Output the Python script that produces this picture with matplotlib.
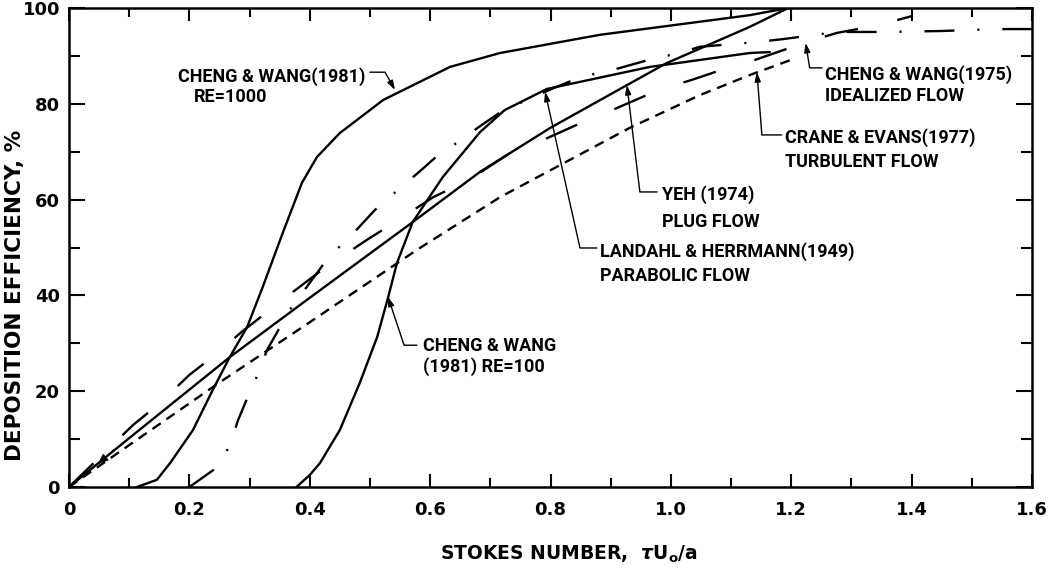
"""
Deposition efficiency vs Stokes number -- comparison of bend deposition models.
Redrawn from a scanned figure; curve values read off the picture.
"""

import matplotlib
matplotlib.use("Agg")
import matplotlib.pyplot as plt
from matplotlib.ticker import MultipleLocator, FuncFormatter

plt.rcParams["font.family"] = ["Roboto", "DejaVu Sans"]
plt.rcParams["font.weight"] = "bold"
plt.rcParams["lines.scale_dashes"] = False

# ── Data ─────────────────────────────────────────────────────────────────────
# Cheng & Wang (1981), Re = 1000  (solid)
RE1000_X = [0.113, 0.146, 0.168, 0.206, 0.239, 0.267, 0.296, 0.322, 0.355, 0.387,
            0.412, 0.45, 0.522, 0.633, 0.716, 0.882, 1.131, 1.195]
RE1000_Y = [0, 1.5, 5, 11.9, 20.3, 27.1, 33.4, 41.8, 53, 63.5,
            68.9, 73.9, 80.8, 87.7, 90.6, 94.4, 98.5, 100]

# Cheng & Wang (1981), Re = 100  (solid)
RE100_X = [0.378, 0.40, 0.417, 0.45, 0.483, 0.512, 0.53, 0.545, 0.571, 0.621,
           0.683, 0.724, 0.794, 0.965, 1.131, 1.164]
RE100_Y = [0, 2.5, 5, 11.9, 21.7, 31.3, 39.5, 46.8, 55.3, 64.7,
           74.1, 78.7, 83.1, 87.7, 90.6, 90.8]

# Yeh (1974), plug flow  (solid, from origin)
YEH_X = [0, 0.1, 0.267, 0.4, 0.571, 0.683, 0.8, 0.927, 0.993, 1.13, 1.195]
YEH_Y = [0, 10.2, 27.1, 39.5, 55.3, 65.8, 75, 83.9, 88.5, 96, 100]

# Crane & Evans (1977), turbulent flow  (short dashes)
CRANE_X = [0, 0.096, 0.251, 0.40, 0.578, 0.716, 0.932, 1.048, 1.131, 1.198]
CRANE_Y = [0, 8.4, 21.9, 34.4, 49.5, 60.5, 75, 81.8, 86, 89.1]

# Cheng & Wang (1975), idealized flow  (long dashes)
IDEAL_X = [0, 0.106, 0.151, 0.2, 0.24, 0.287, 0.329, 0.375, 0.42, 0.495, 0.538,
           0.605, 0.663, 0.741, 0.787, 0.854, 0.91, 0.98, 1.035, 1.106, 1.136,
           1.228, 1.276, 1.344, 1.40]
IDEAL_Y = [0, 12.9, 17.5, 23.4, 27.3, 32.4, 36.5, 41, 45.3, 51.6, 55,
           60.5, 64, 70.4, 72.4, 76.2, 79.1, 82.9, 85, 88, 89,
           93, 94.8, 96.4, 98.3]

# Landahl & Herrmann (1949), parabolic flow  (dash-dot)
LANDAHL_X = [0.2, 0.245, 0.267, 0.281, 0.297, 0.314, 0.329, 0.367, 0.428, 0.455,
             0.48, 0.508, 0.55, 0.58, 0.608, 0.646, 0.686, 0.72, 0.8, 0.854,
             0.89, 0.97, 1.015, 1.048, 1.143, 1.186, 1.228, 1.276, 1.36, 1.45,
             1.54, 1.6]
LANDAHL_Y = [0, 4, 8.6, 14, 18.8, 23.6, 28.6, 37, 47.4, 50.9,
             54, 57.8, 62.4, 65.6, 68.7, 72, 75.6, 78.5, 83, 85.8,
             86.6, 89.4, 90.6, 91.9, 92.9, 93.5, 94.2, 95, 95, 95.2,
             95.6, 95.6]

X_TICKS = [0, 0.2, 0.4, 0.6, 0.8, 1.0, 1.2, 1.4, 1.6]
Y_TICKS = [0, 20, 40, 60, 80, 100]

# ── Styles ───────────────────────────────────────────────────────────────────
LW = 1.7
SHORT_DASH = (0, (7.2, 5.0))
LONG_DASH = (0, (24.5, 29.0))
DASH_DOT = (0, (21.6, 16.5, 1.5, 16.5))
FS = 13
AXIS_FONT = "DejaVu Sans"


def label(ax, lines, x, y, step):
    """Stack label lines at data position (x, y), one below the other."""
    for i, txt in enumerate(lines):
        ax.text(x, y - i * step, txt, fontsize=FS, fontweight="bold",
                ha="left", va="top")


def leader(ax, start, tip, angle_b):
    """Bent leader: horizontal run from the label, then an arrow to the curve."""
    ax.annotate("", xy=tip, xytext=start,
                arrowprops=dict(arrowstyle="-|>,head_length=0.55,head_width=0.18",
                                color="black", lw=1.0, shrinkA=0, shrinkB=0,
                                connectionstyle=f"angle,angleA=0,angleB={angle_b},rad=0"))


fig = plt.figure(figsize=(10.51, 5.70), dpi=100)
ax = fig.add_axes([69 / 1051, 83 / 570, 963 / 1051, 479 / 570])

ax.plot(RE1000_X, RE1000_Y, color="black", lw=LW)
ax.plot(RE100_X, RE100_Y, color="black", lw=LW)
ax.plot(YEH_X, YEH_Y, color="black", lw=LW)
ax.plot(CRANE_X, CRANE_Y, color="black", lw=LW, linestyle=SHORT_DASH)
ax.plot(IDEAL_X, IDEAL_Y, color="black", lw=LW, linestyle=LONG_DASH)
ax.plot(LANDAHL_X, LANDAHL_Y, color="black", lw=LW, linestyle=DASH_DOT)

# labels and their leaders
label(ax, ["CHENG & WANG(1981)"], 0.181, 87.7, 4.4)
label(ax, ["RE=1000"], 0.208, 83.3, 4.4)
leader(ax, (0.500, 86.6), (0.5415, 82.9), -61)

label(ax, ["CHENG & WANG", "(1981) RE=100"], 0.588, 31.3, 4.2)
leader(ax, (0.578, 29.6), (0.530, 39.7), 108.4)

label(ax, ["YEH (1974)", "PLUG FLOW"], 0.985, 63.0, 5.8)
leader(ax, (0.977, 61.6), (0.927, 83.9), 96.9)

label(ax, ["LANDAHL & HERRMANN(1949)", "PARABOLIC FLOW"], 0.882, 51.1, 5.2)
leader(ax, (0.877, 49.9), (0.791, 82.5), 102.6)

label(ax, ["CRANE & EVANS(1977)", "TURBULENT FLOW"], 1.189, 74.9, 5.2)
leader(ax, (1.184, 73.5), (1.143, 86.6), 94.5)

label(ax, ["CHENG & WANG(1975)", "IDEALIZED FLOW"], 1.256, 88.1, 4.6)
leader(ax, (1.251, 87.5), (1.224, 92.7), 99)

# small arrowhead drawn on the lines near the origin
ax.annotate("", xy=(0.048, 4.8), xytext=(0.075, 7.8),
            arrowprops=dict(arrowstyle="-|>,head_length=0.6,head_width=0.25",
                            color="black", lw=1.0, shrinkA=0, shrinkB=0))

# axes
ax.set_xlim(0, 1.6)
ax.set_ylim(0, 100)
ax.set_xticks(X_TICKS)
ax.set_yticks(Y_TICKS)
ax.xaxis.set_minor_locator(MultipleLocator(0.1))
ax.yaxis.set_minor_locator(MultipleLocator(10))
ax.xaxis.set_major_formatter(FuncFormatter(lambda v, _: "0" if abs(v) < 1e-9 else f"{v:.1f}"))
ax.yaxis.set_major_formatter(FuncFormatter(lambda v, _: f"{v:.0f}"))

ax.tick_params(axis="both", which="both", direction="in", top=True, right=True,
               width=1.5, labelsize=FS)
ax.tick_params(axis="x", which="major", length=9.5, pad=10)
ax.tick_params(axis="x", which="minor", length=6.5)
ax.tick_params(axis="y", which="major", length=11.5, pad=6.5)
ax.tick_params(axis="y", which="minor", length=8)
for lab in ax.get_xticklabels() + ax.get_yticklabels():
    lab.set_fontweight("bold")
    lab.set_family(AXIS_FONT)
for sp in ax.spines.values():
    sp.set_linewidth(1.8)

fig.text(15 / 1051, 1 - 295 / 570, "DEPOSITION EFFICIENCY, %", rotation=90,
         fontsize=15.5, fontweight="bold", family=AXIS_FONT, ha="center", va="center")
fig.text(569 / 1051, 1 - 554 / 570, r"STOKES NUMBER,  $\tau\mathrm{U_o/a}$",
         fontsize=13.5, fontweight="bold", family=AXIS_FONT, ha="center", va="center")

fig.savefig("out.png", dpi=100)
plt.close(fig)
